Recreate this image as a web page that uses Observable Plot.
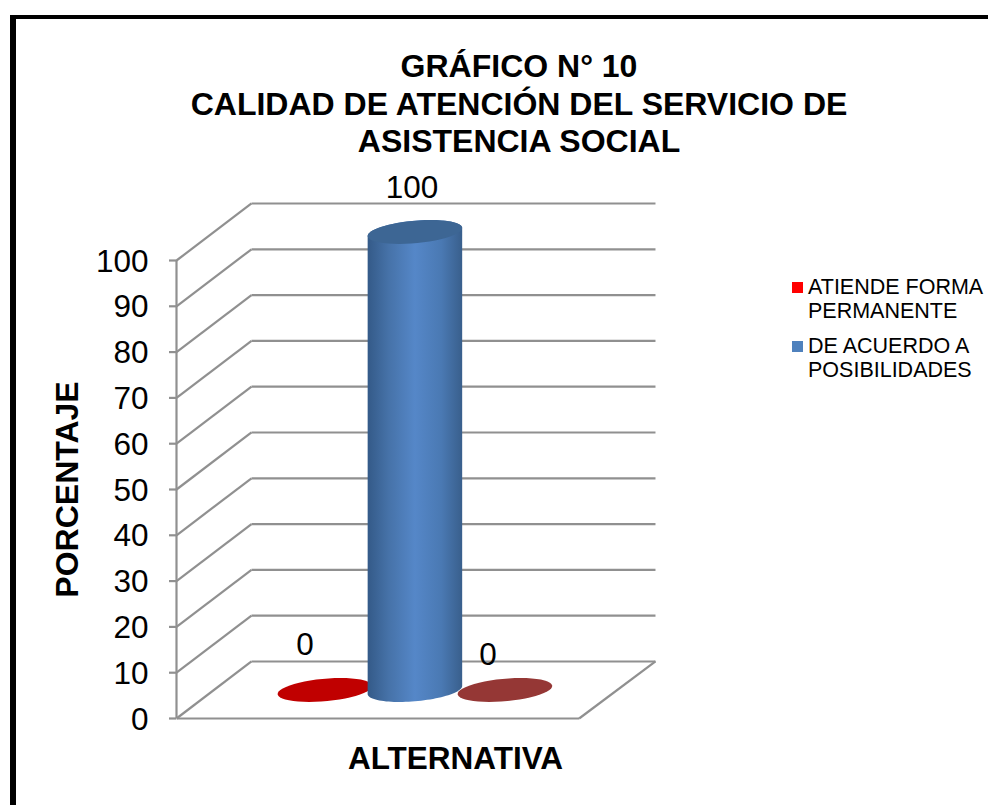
<!DOCTYPE html>
<html lang="es">
<head>
<meta charset="utf-8">
<script src="https://cdn.jsdelivr.net/npm/d3@7"></script>
<script src="https://cdn.jsdelivr.net/npm/@observablehq/plot@0.6"></script>
<style>
  html, body { margin: 0; padding: 0; background: #fff; overflow: hidden; width: 988px; height: 805px; }
  body { position: relative; font-family: "Liberation Sans", Arial, sans-serif; color: #000; }
  #frame { position: absolute; left: 10px; top: 15px; right: -10px; bottom: -10px; border-left: 6px solid #000; border-top: 4px solid #000; pointer-events: none; }
  #title { position: relative; height: 170px; box-sizing: border-box; padding-top: 48px; width: 988px; text-align: center; font-weight: bold; font-size: 32px; line-height: 37.5px; }
  #title div { position: relative; left: 25px; }
  #chart { display: block; height: 635px; }
  #chart svg { display: block; }
  #legend { position: absolute; left: 792px; top: 275px; font-size: 21.5px; line-height: 24px; }
  .item { position: relative; padding-left: 16px; margin-bottom: 11px; white-space: nowrap; }
  .item i { position: absolute; left: 0; top: 7px; width: 11px; height: 11px; }
</style>
</head>
<body>
<div id="frame"></div>
<div id="title"><div>GRÁFICO N° 10</div><div>CALIDAD DE ATENCIÓN DEL SERVICIO DE</div><div>ASISTENCIA SOCIAL</div></div>
<div id="chart"></div>
<div id="legend"></div>
<script>
// --- chart data ---
const seriesNames = ["ATIENDE FORMA PERMANENTE", "DE ACUERDO A POSIBILIDADES", ""];
const seriesValues = [0, 100, 0];
const seriesPositions = [-1, 0, 1];
const yTicks = [0, 10, 20, 30, 40, 50, 60, 70, 80, 90, 100];
const legendLines = [["ATIENDE FORMA", "PERMANENTE"], ["DE ACUERDO A", "POSIBILIDADES"]];

// --- styles ---
const capColors = ["#c00000", "#3d6694", "#953735"];
const legendColors = ["#ff0000", "#4f81bd"];
const labelDx = [-21, -4, -18];
const labelDy = [-45, -44, -35];
const gridColor = "#909090";

// --- oblique projection in data units: depth 1 is the back wall ---
const xExtent = 2.244, depthX = 0.833, depthY = 12.45, clusterShift = -0.012;
const project = (x, depth, value) => ({x: x + depth * depthX, y: value + depth * depthY});

const radiusX = 0.495, radiusDepth = 0.21;
const rimPoint = (cx, value, t) =>
  project(cx + clusterShift + radiusX * Math.cos(t), 0.5 + radiusDepth * Math.sin(t), value);
const tangent = Math.atan2(radiusDepth * depthX, radiusX);
const sweep = (cx, value, from, to, id) =>
  d3.range(49).map(i => ({...rimPoint(cx, value, from + (to - from) * i / 48), id}));

const caps = seriesValues.flatMap((v, i) =>
  sweep(seriesPositions[i], v, 0, 2 * Math.PI, i));
const bodies = seriesValues.flatMap((v, i) => v <= 0 ? [] : [
  ...sweep(seriesPositions[i], 0, tangent + Math.PI, tangent + 2 * Math.PI, i),
  ...sweep(seriesPositions[i], v, tangent, tangent + Math.PI, i)
]);

const wallLines = yTicks.map(v => {
  const a = project(-xExtent, 0, v), b = project(-xExtent, 1, v), c = project(xExtent, 1, v);
  return {x1: a.x, y1: a.y, x2: b.x, y2: b.y, x3: c.x, y3: c.y};
});
const frontFloor = project(xExtent - 0.015, 0, 0), backFloor = project(xExtent, 1, 0);

const labels = seriesValues.map((v, i) => ({...project(seriesPositions[i], 0.5, v), text: String(v), i}));

const plot = Plot.plot({
  width: 988,
  height: 635,
  marginLeft: 176,
  marginRight: 408,
  marginTop: 90,
  marginBottom: 87,
  style: {fontFamily: '"Liberation Sans", Arial, sans-serif', background: "transparent", overflow: "visible"},
  x: {domain: [-xExtent, xExtent], axis: null},
  y: {domain: [0, 100]},
  marks: [
    // walls
    Plot.link(wallLines, {x1: "x1", y1: "y1", x2: "x2", y2: "y2", stroke: gridColor, strokeWidth: 2.2}),
    Plot.link(wallLines, {x1: "x2", y1: "y2", x2: "x3", y2: "y3", stroke: gridColor, strokeWidth: 2.2}),
    // floor edges
    Plot.link([0], {x1: () => -xExtent, x2: () => frontFloor.x, y1: () => 0, y2: () => 0, stroke: gridColor, strokeWidth: 2.2}),
    Plot.link([0], {x1: () => frontFloor.x, x2: () => backFloor.x, y1: () => frontFloor.y, y2: () => backFloor.y, stroke: gridColor, strokeWidth: 2.2}),
    // vertical axis
    Plot.ruleX([-xExtent], {y1: 0, y2: 100, stroke: gridColor, strokeWidth: 2.2}),
    Plot.axisY({
      ticks: yTicks, tickFormat: () => "", tickSize: 7, label: null,
      stroke: gridColor, strokeWidth: 2.2
    }),
    Plot.axisY({
      ticks: yTicks, tickFormat: "d", tickSize: 0, tickPadding: 28, label: null, dy: 1,
      fill: "#000", fontSize: 31.5
    }),
    // cylinders
    Plot.line(caps.filter(d => d.id !== 1), {x: "x", y: "y", z: "id", stroke: "none", curve: "linear",
      fill: d => capColors[d.id]}),
    Plot.line(bodies, {x: "x", y: "y", z: "id", stroke: "none", curve: "linear", fill: "url(#cylinderSide)"}),
    Plot.line(caps.filter(d => d.id === 1), {x: "x", y: "y", z: "id", stroke: "none", curve: "linear",
      fill: d => capColors[d.id]}),
    // value labels
    Plot.text(labels, {x: "x", y: "y", text: "text", fontSize: 31.5, fill: "#000",
      render(index, scales, values, dims, ctx, next) {
        const g = next(index, scales, values, dims, ctx);
        d3.select(g).selectAll("text").attr("transform", function(_, k) {
          const i = index[k];
          return `translate(${values.x[i] + labelDx[i]},${values.y[i] + labelDy[i]})`;
        });
        return g;
      }}),
    // axis titles
    Plot.text(["PORCENTAJE"], {text: d => d, frameAnchor: "left", textAnchor: "middle", lineAnchor: "middle", rotate: -90, dx: -109,
      fontSize: 32, fontWeight: "bold", fill: "#000"}),
    Plot.text(["ALTERNATIVA"], {text: d => d, frameAnchor: "bottom", textAnchor: "middle", lineAnchor: "middle", dx: 77, dy: 40,
      fontSize: 31.5, fontWeight: "bold", fill: "#000"})
  ]
});

// horizontal shading of the cylinder wall
const ns = "http://www.w3.org/2000/svg";
const defs = document.createElementNS(ns, "defs");
const grad = document.createElementNS(ns, "linearGradient");
grad.setAttribute("id", "cylinderSide");
[[0, "#345a88"], [0.22, "#4672a8"], [0.5, "#5587c8"], [0.78, "#4a79b3"], [1, "#395f8c"]].forEach(([o, c]) => {
  const s = document.createElementNS(ns, "stop");
  s.setAttribute("offset", o);
  s.setAttribute("stop-color", c);
  grad.appendChild(s);
});
defs.appendChild(grad);
plot.insertBefore(defs, plot.firstChild);
document.getElementById("chart").appendChild(plot);

// legend
const legend = document.getElementById("legend");
legendLines.forEach((lines, i) => {
  const item = document.createElement("div");
  item.className = "item";
  const sw = document.createElement("i");
  sw.style.background = legendColors[i];
  item.appendChild(sw);
  lines.forEach(l => {
    const d = document.createElement("div");
    d.textContent = l;
    item.appendChild(d);
  });
  legend.appendChild(item);
});
</script>
</body>
</html>
